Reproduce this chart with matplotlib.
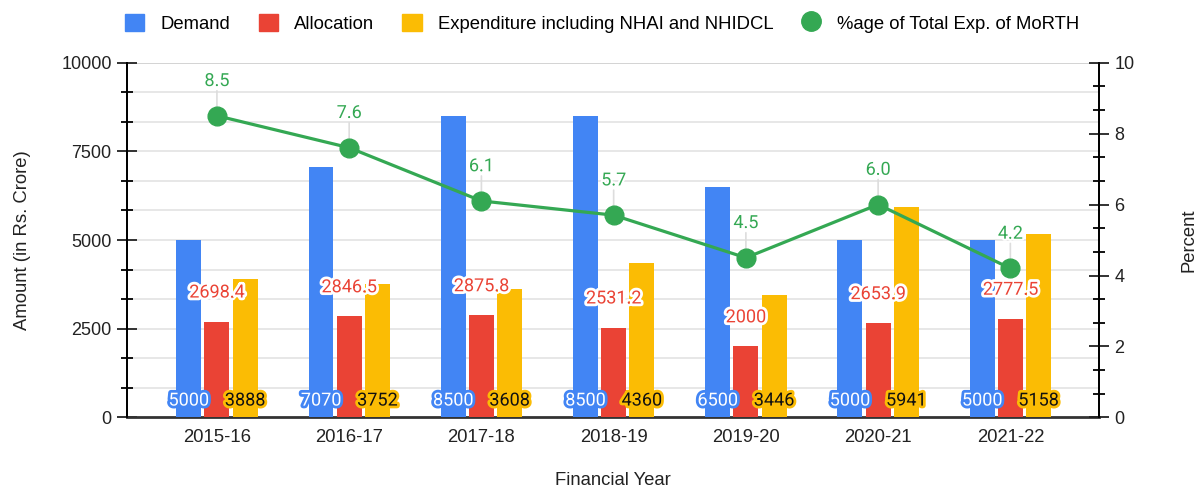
import matplotlib.pyplot as plt
import matplotlib.patheffects as pe
from matplotlib.patches import Patch
from matplotlib.lines import Line2D
from matplotlib.ticker import MultipleLocator
import numpy as np

years = ['2015-16', '2016-17', '2017-18', '2018-19', '2019-20', '2020-21', '2021-22']
demand = [5000, 7070, 8500, 8500, 6500, 5000, 5000]
allocation = [2698.4, 2846.5, 2875.8, 2531.2, 2000, 2653.9, 2777.5]
expenditure = [3888, 3752, 3608, 4360, 3446, 5941, 5158]
pct = [8.5, 7.6, 6.1, 5.7, 4.5, 6.0, 4.2]

alloc_labels = ['2698.4', '2846.5', '2875.8', '2531.2', '2000', '2653.9', '2777.5']

BLUE = '#4285F4'
RED = '#EA4335'
YELLOW = '#FBBC04'
GREEN = '#34A853'

plt.rcParams['font.family'] = ['Liberation Sans', 'DejaVu Sans']

fig = plt.figure(figsize=(11.97, 4.91), dpi=100)
ax = fig.add_axes([0.1061, 0.1497, 0.8120, 0.7230])
ax2 = ax.twinx()

x = np.arange(len(years))
w = 0.189
off = 0.213

ax.bar(x - off, demand, w, color=BLUE, zorder=3)
ax.bar(x, allocation, w, color=RED, zorder=3)
ax.bar(x + off, expenditure, w, color=YELLOW, zorder=3)

ax.set_xlim(-0.68, 6.67)
ax.set_ylim(0, 10000)
ax2.set_ylim(0, 10)

# grid + ticks
ax.yaxis.set_major_locator(MultipleLocator(2500))
ax.yaxis.set_minor_locator(MultipleLocator(10000 / 12))
ax2.yaxis.set_major_locator(MultipleLocator(2))
ax2.yaxis.set_minor_locator(MultipleLocator(2 / 3))
for v in np.arange(1, 12) * 10000 / 12:
    ax.axhline(v, color='#e3e3e3', lw=1.2, zorder=0)
ax.axhline(10000, color='#cccccc', lw=1.2, zorder=0)

ax.tick_params(axis='y', which='major', direction='inout', length=14, width=1.3,
               labelsize=13, colors='#222222', pad=4)
ax.tick_params(axis='y', which='minor', direction='inout', length=8, width=1.3)
ax2.tick_params(axis='y', which='major', direction='inout', length=14, width=1.3,
                labelsize=13, colors='#222222', pad=4)
ax2.tick_params(axis='y', which='minor', direction='inout', length=8, width=1.3)
ax.set_xticks(x)
ax.set_xticklabels(years, fontsize=13.3, color='#222222')
ax.tick_params(axis='x', length=0, pad=8)

for a in (ax, ax2):
    a.spines['top'].set_visible(False)
    a.spines['left'].set_linewidth(1.3)
    a.spines['right'].set_linewidth(1.3)
ax.spines['bottom'].set_color('#333333')
ax.spines['bottom'].set_linewidth(2)
ax2.spines['bottom'].set_visible(False)

ax.set_ylabel('Amount (in Rs. Crore)', fontsize=13.3, color='#222222', labelpad=22)
ax2.set_ylabel('Percent', fontsize=13.3, color='#222222', labelpad=33)
ax.set_xlabel('Financial Year', fontsize=13.3, color='#222222', labelpad=19)

# green line
ax2.plot(x, pct, color=GREEN, lw=2.3, marker='o', markersize=13.5, zorder=5)

lbl = dict(family=['Roboto', 'DejaVu Sans'], fontsize=13, ha='center', va='center')
for i in range(len(years)):
    ax.annotate(str(demand[i]), (x[i] - off, 0), xytext=(0, 12.2), textcoords='offset points',
                color='white', zorder=6,
                path_effects=[pe.withStroke(linewidth=4, foreground=BLUE)], **lbl)
    ax.annotate(str(expenditure[i]), (x[i] + off, 0), xytext=(0, 12.2), textcoords='offset points',
                color='#111111', zorder=6,
                path_effects=[pe.withStroke(linewidth=4, foreground=YELLOW)], **lbl)
    ax.annotate(alloc_labels[i], (x[i], allocation[i]), xytext=(0, 21), textcoords='offset points',
                color=RED, zorder=6,
                path_effects=[pe.withStroke(linewidth=4, foreground='white')], **lbl)
    ax2.annotate('', (x[i], pct[i]), xytext=(0, 18), textcoords='offset points',
                 arrowprops=dict(arrowstyle='-', color='#dddddd', lw=1.2, shrinkA=0, shrinkB=0),
                 zorder=2)
    ax2.annotate(f'{pct[i]:.1f}', (x[i], pct[i]), xytext=(0, 25), textcoords='offset points',
                 color=GREEN, zorder=6,
                 path_effects=[pe.withStroke(linewidth=3, foreground='white')], **lbl)

handles = [Patch(color=BLUE), Patch(color=RED), Patch(color=YELLOW),
           Line2D([], [], ls='', marker='o', color=GREEN, markersize=14)]
names = ['Demand', 'Allocation', 'Expenditure including NHAI and NHIDCL',
         '%age of Total Exp. of MoRTH']
fig.legend(handles, names, loc='center', bbox_to_anchor=(0.503, 0.953), ncol=4,
           frameon=False, fontsize=13.3, handlelength=1.05, handleheight=1.05,
           handletextpad=0.85, columnspacing=1.55)

fig.savefig('out.png', dpi=100)
